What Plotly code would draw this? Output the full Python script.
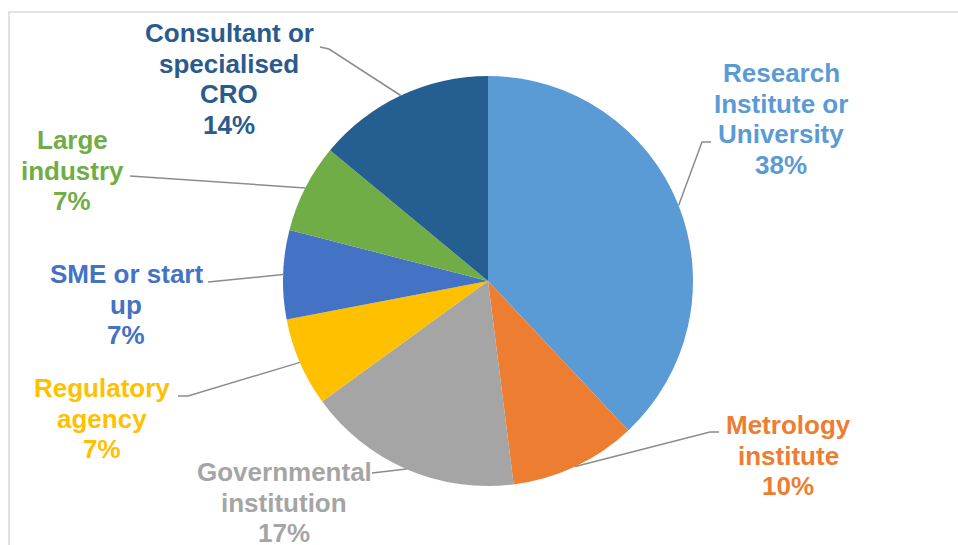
import math
import plotly.graph_objects as go

# ---- data ----
categories = ["Research Institute or University", "Metrology institute",
              "Governmental institution", "Regulatory agency",
              "SME or start up", "Large industry", "Consultant or specialised CRO"]
values = [38, 10, 17, 7, 7, 7, 14]
label_lines = [["Research", "Institute or", "University"],
               ["Metrology", "institute"],
               ["Governmental", "institution"],
               ["Regulatory", "agency"],
               ["SME or start", "up"],
               ["Large", "industry"],
               ["Consultant or", "specialised", "CRO"]]
colors = ["#5B9BD5", "#ED7D31", "#A5A5A5", "#FFC000", "#4472C4", "#70AD47", "#255E91"]
text_colors = ["#5B9BD5", "#ED7D31", "#A5A5A5", "#FFC000", "#4472C4", "#70AD47", "#2A5B8C"]

# ---- layout (pixel coordinates) ----
W, H = 958, 545
CX, CY, R = 488, 281, 205
label_xy = [(781, 73), (788, 425), (284, 472), (102, 388), (126, 274), (72, 140), (229, 33)]
leader_mid = [(702, 142), (710, 432), None, (188, 396), None, None, (329, 49)]
leader_end = [(711, 142), (719, 432), (372, 473), (178, 396), (208, 282), (130, 176), (320, 47)]
LINE_H = 30.5
FONT = "Liberation Sans, Arial, sans-serif"
FS = 26

fig = go.Figure()
fig.add_trace(go.Pie(
    labels=categories, values=values, sort=False, direction="clockwise", rotation=0,
    marker=dict(colors=colors, line=dict(width=0)), textinfo="none", hoverinfo="label+percent",
    domain=dict(x=[(CX - R) / W, (CX + R) / W], y=[(H - CY - R) / H, (H - CY + R) / H]),
    showlegend=False,
))

total = sum(values)
cum = 0
shapes = [dict(type="rect", xref="x", yref="y", x0=9, y0=12, x1=980, y1=570,
               line=dict(color="#D9D9D9", width=1.5), fillcolor="rgba(0,0,0,0)", layer="below")]
annotations = []
for i, v in enumerate(values):
    mid = (cum + v / 2) / total * 2 * math.pi
    cum += v
    ex, ey = CX + R * math.sin(mid), CY - R * math.cos(mid)
    pts = [(ex, ey)]
    if leader_mid[i] is not None:
        pts.append(leader_mid[i])
    pts.append(leader_end[i])
    path = "M " + " L ".join(f"{x:.1f},{y:.1f}" for x, y in pts)
    shapes.append(dict(type="path", xref="x", yref="y", path=path,
                       line=dict(color="#8C8C8C", width=1.5), layer="above"))
    lines = label_lines[i] + [f"{round(v / total * 100)}%"]
    lx, ly = label_xy[i]
    for j, t in enumerate(lines):
        annotations.append(dict(x=lx, y=ly + j * LINE_H, xref="x", yref="y", text=t,
                                showarrow=False, xanchor="center", yanchor="middle",
                                font=dict(family=FONT, size=FS, color=text_colors[i], weight="bold")))

fig.update_layout(
    width=W, height=H, margin=dict(l=0, r=0, t=0, b=0),
    paper_bgcolor="white", plot_bgcolor="rgba(0,0,0,0)",
    xaxis=dict(range=[0, W], visible=False, fixedrange=True),
    yaxis=dict(range=[H, 0], visible=False, fixedrange=True),
    shapes=shapes, annotations=annotations,
)
fig.write_html("out.html")
